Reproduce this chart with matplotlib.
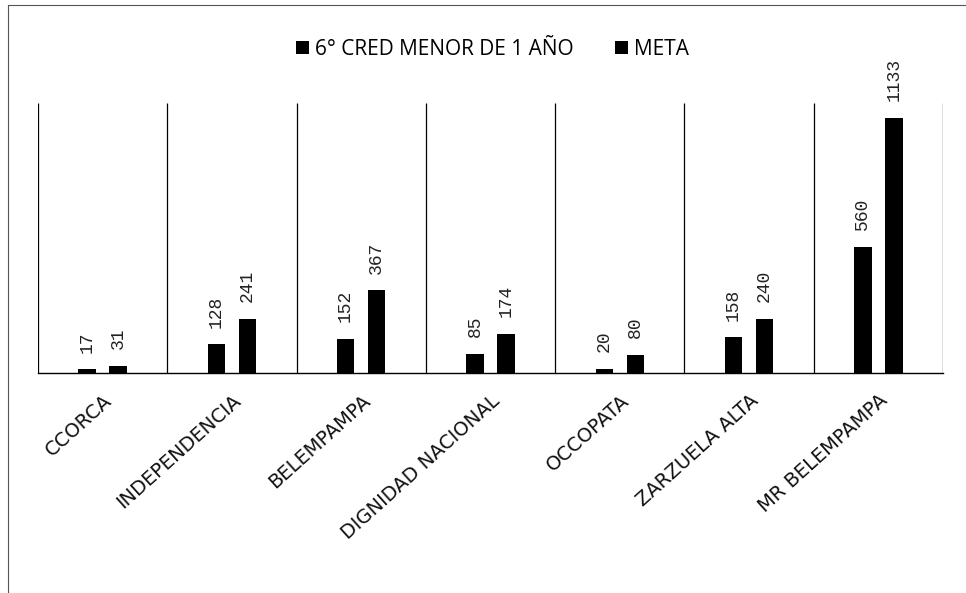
import numpy as np
import matplotlib.pyplot as plt

categories = ['CCORCA', 'INDEPENDENCIA', 'BELEMPAMPA', 'DIGNIDAD NACIONAL',
              'OCCOPATA', 'ZARZUELA ALTA', 'MR BELEMPAMPA']
cred = [17, 128, 152, 85, 20, 158, 560]
meta = [31, 241, 367, 174, 80, 240, 1133]
series_names = ['6° CRED MENOR DE 1 AÑO', 'META']

fig = plt.figure(figsize=(9.66, 5.93), dpi=100)
ax = fig.add_axes([38/966, (593-373)/593, (943-38)/966, 270/593])

x = np.arange(len(categories))
w = 0.135
b1 = ax.bar(x - 0.12, cred, w, color='black', label=series_names[0])
b2 = ax.bar(x + 0.12, meta, w, color='black', label=series_names[1])

for bars in (b1, b2):
    ax.bar_label(bars, padding=12, rotation=90, fontsize=13,
                 family='Liberation Mono', color='#222222')

# category dividers
ax.vlines(np.arange(len(categories) + 1) - 0.5, 0, 1200, color='black', lw=0.9)

ax.set_xlim(-0.5, len(categories) - 0.5)
ax.set_ylim(0, 1200)
ax.set_yticks([])
ax.set_xticks(x)
ax.set_xticklabels(categories, rotation=42, ha='right', rotation_mode='anchor',
                   fontsize=14, family='DejaVu Sans', color='#111111')
ax.tick_params(axis='x', length=0, pad=13)
for s in ['top', 'left', 'right']:
    ax.spines[s].set_visible(False)
ax.spines['bottom'].set_linewidth(1.0)

fig.legend(loc='center', bbox_to_anchor=(0.51, 0.917), ncol=2, frameon=False,
           handlelength=0.6, handleheight=0.6, handletextpad=0.3,
           columnspacing=2.0, prop={'family': 'Open Sans', 'size': 15})

# scanned page border
fig.add_artist(plt.Line2D([8/966, 8/966], [0, 1 - 5/593], color='#555555', lw=0.8))
fig.add_artist(plt.Line2D([8/966, 1], [1 - 5/593, 1 - 5/593], color='#555555', lw=0.8))

fig.savefig('out.png', dpi=100)
